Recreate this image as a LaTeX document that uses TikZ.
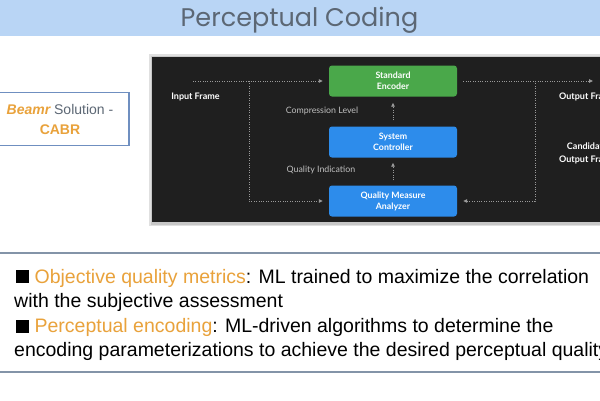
\documentclass[tikz,border=0pt]{standalone}
\usepackage{fontspec}
\setmainfont{Liberation Sans}
\newfontfamily\titlefont{Poppins}
\newfontfamily\diafont{Lato}
\usetikzlibrary{arrows.meta}
\definecolor{band}{HTML}{B9D5F5}
\definecolor{titlegray}{HTML}{5C6774}
\definecolor{panel}{HTML}{1F1F1F}
\definecolor{encgreen}{HTML}{4AA84A}
\definecolor{ctlblue}{HTML}{2D8CEB}
\definecolor{orangeT}{HTML}{E9A23B}
\definecolor{boxedge}{HTML}{6F8FC0}
\definecolor{sepblue}{HTML}{8394A8}
\definecolor{dotgray}{HTML}{9A9A9A}
\tikzset{
  box/.style={rounded corners=3pt, minimum width=128pt, minimum height=31pt, inner sep=0pt,
    text=white, align=center, font=\diafont\bfseries\fontsize{8.8}{11}\selectfont},
  flow/.style={draw=dotgray, line width=0.9pt, dash pattern=on 0.9pt off 1.5pt,
    -{Triangle[length=4pt,width=3.6pt,fill=dotgray]}},
  wlbl/.style={text=white, inner sep=0pt, font=\diafont\bfseries\fontsize{9}{12.5}\selectfont},
  glbl/.style={text=black!25, inner sep=0pt, font=\diafont\fontsize{8.8}{11}\selectfont},
  bullettxt/.style={anchor=base west, inner sep=0pt, font=\fontsize{19.5}{23}\selectfont},
  sepline/.style={draw=sepblue, line width=1.6pt}
}
\newcommand{\sqbul}{\rule[0pt]{13pt}{13pt}}
\begin{document}
\begin{tikzpicture}[x=1pt,y=-1pt]
\useasboundingbox (0,0) rectangle (600,400);
\clip (0,0) rectangle (600,400);
\fill[white] (0,0) rectangle (600,400);
% title band
\fill[band] (0,0) rectangle (600,36);
\node[text=titlegray, inner sep=0pt, anchor=base, font=\titlefont\fontsize{25.5}{28}\selectfont] (title) at (299.5,26) {Perceptual Coding};
% Beamr box
\node[draw=boxedge, line width=1.1pt, minimum width=132pt, minimum height=53pt, inner sep=0pt,
  text=titlegray, font=\fontsize{14}{20}\selectfont] (beamr) at (63,119) {};
\node[align=center, inner sep=0pt, text=titlegray, font=\fontsize{14}{20}\selectfont] (beamrtxt) at (60,119)
  {{\color{orangeT}\bfseries\itshape Beamr} Solution -\\{\color{orangeT}\bfseries CABR}};
% panel with shadow
\fill[black!12] (149,54) rectangle (612,226);
\fill[black!22] (150.5,55.5) rectangle (612,224.5);
\fill[panel] (152,57) rectangle (612,222);
% boxes
\node[box, fill=encgreen] (enc) at (393,81) {Standard\\Encoder};
\node[box, fill=ctlblue] (ctl) at (393,142) {System\\Controller};
\node[box, fill=ctlblue] (qma) at (393,201) {Quality Measure\\Analyzer};
% labels
\node[wlbl] (inf) at (195.5,97) {Input Frame};
\node[glbl] (cl) at (322,111) {Compression Level};
\node[glbl] (qi) at (321,170) {Quality Indication};
\node[wlbl, anchor=west] (outf) at (559,97) {Output Frame};
\node[wlbl, anchor=west, align=center] (cand) at (559,153.5) {Candidate\\Output Frame};
% connectors
\coordinate (in) at (193,81);
\coordinate (split) at (249,81);
\coordinate (out) at (593,81);
\coordinate (rsplit) at (535,81);
\draw[flow] (in) -- ([xshift=-6pt]enc.west);
\draw[flow] (split) |- ([xshift=-6pt]qma.west);
\draw[flow] ([xshift=6pt]enc.east) -- (out);
\draw[flow] (rsplit) |- ([xshift=6pt]qma.east);
\draw[flow] ([yshift=6pt]ctl.north) -- ([yshift=-6pt]enc.south);
\draw[flow] ([yshift=5pt]qma.north) -- ([yshift=-5pt]ctl.south);
% separators
\draw[sepline] (0,253) -- (600,253);
\draw[sepline] (0,372) -- (600,372);
% bullets
\node[bullettxt] (b1) at (16,283) {\sqbul\ {\color{orangeT}Objective quality metrics}: ML trained to maximize the correlation};
\node[bullettxt] (b1b) at (14,307.5) {with the subjective assessment};
\node[bullettxt] (b2) at (16,332.5) {\sqbul\ {\color{orangeT}Perceptual encoding}: ML-driven algorithms to determine the};
\node[bullettxt] (b2b) at (14,356.5) {encoding parameterizations to achieve the desired perceptual quality};
\end{tikzpicture}
\end{document}
